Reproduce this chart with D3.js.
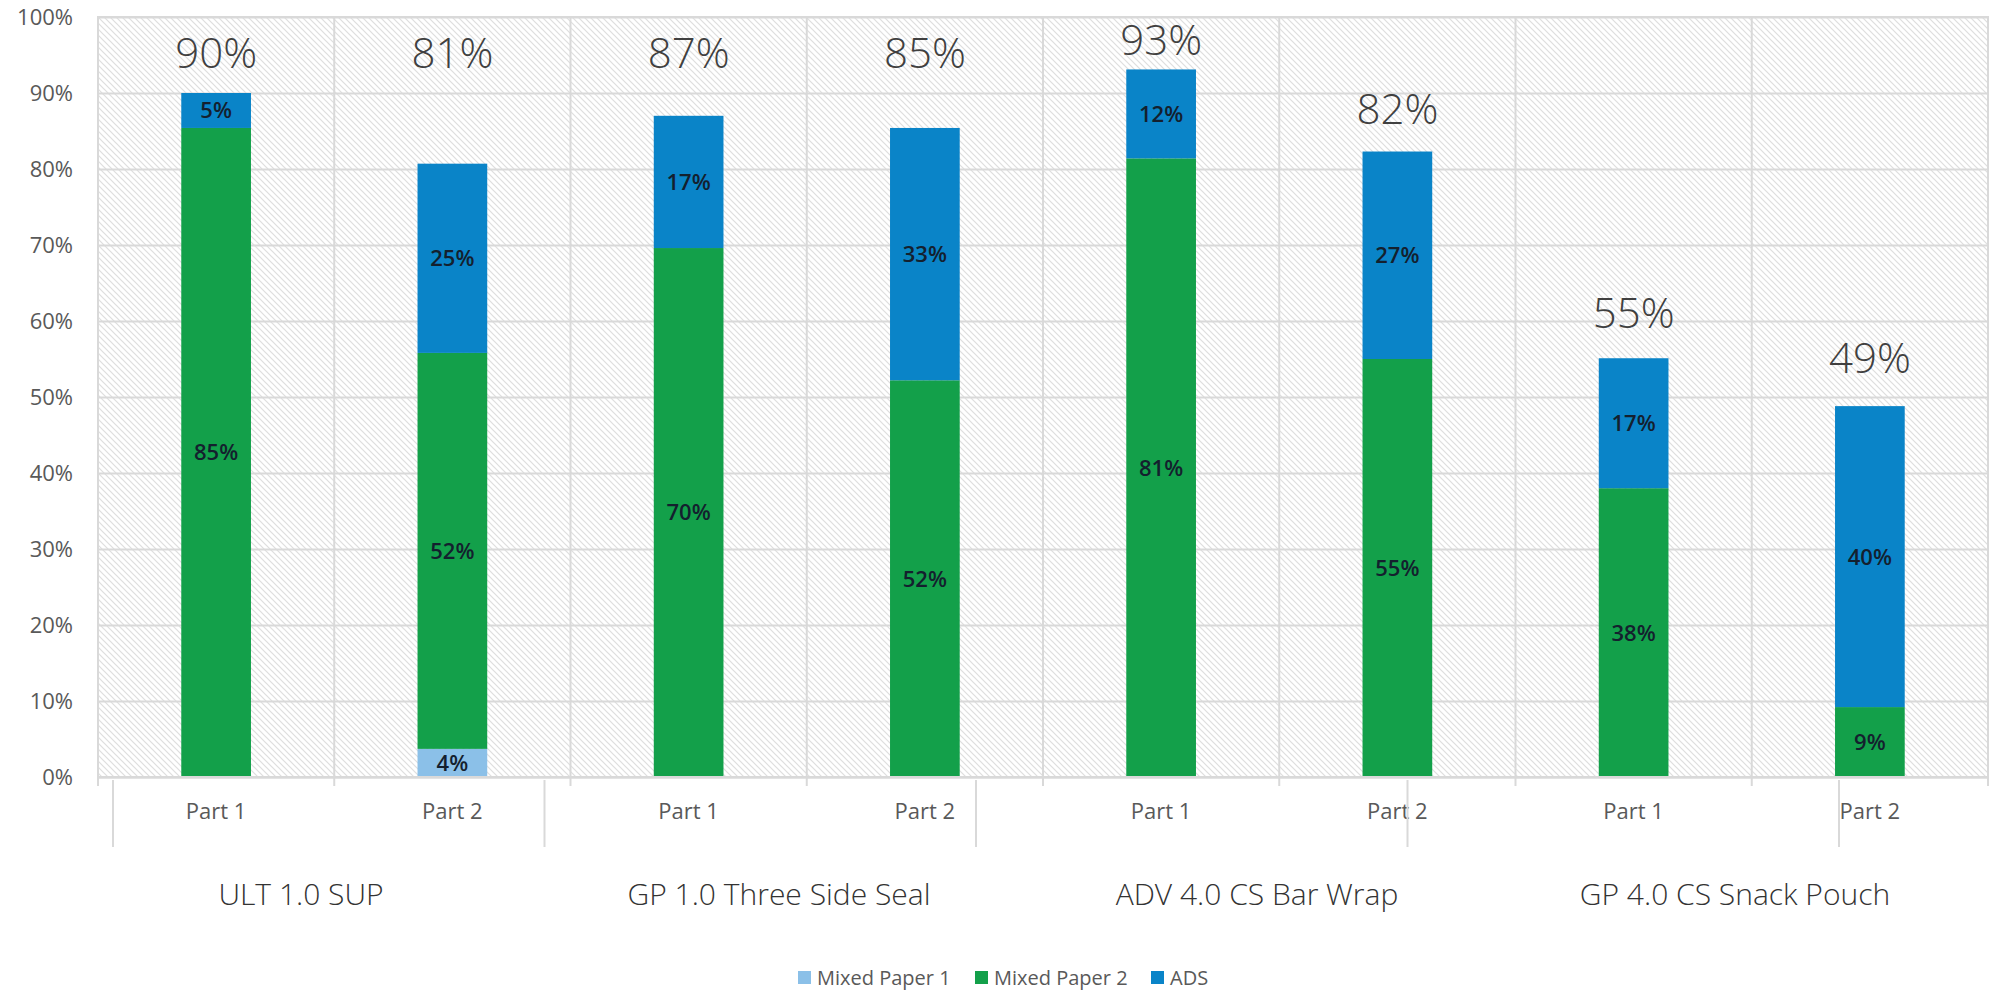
<!DOCTYPE html>
<html>
<head>
<meta charset="utf-8">
<script src="https://cdn.jsdelivr.net/npm/d3@7"></script>
<style>
  body { margin: 0; background: #fff; }
  text { font-family: "Open Sans", "Liberation Sans", sans-serif; }
  .tick-label { fill: #595959; font-size: 22px; }
  .total-label { fill: #404040; font-size: 42px; font-weight: 300; }
  .seg-label { fill: #14202e; font-size: 22px; font-weight: 600; }
  .group-label { fill: #333; font-size: 30px; font-weight: 300; }
  .legend-label { fill: #595959; font-size: 20px; }
</style>
</head>
<body>
<div id="chart"></div>
<script>
// data
let groups = ["ULT 1.0 SUP", "GP 1.0 Three Side Seal", "ADV 4.0 CS Bar Wrap", "GP 4.0 CS Snack Pouch"];
let parts = ["Part 1", "Part 2"];
let seriesNames = ["Mixed Paper 1", "Mixed Paper 2", "ADS"];
let mixedPaper1 = [0, 3.7, 0, 0, 0, 0, 0, 0];
let mixedPaper2 = [85.4, 52.1, 69.6, 52.2, 81.4, 55.0, 38.0, 9.2];
let ads = [4.6, 24.9, 17.4, 33.2, 11.7, 27.3, 17.1, 39.6];
// where the big total labels sit (in % units, they were placed by hand)
let totalLabelAt = [95.3, 95.3, 95.3, 95.3, 97.0, 87.9, 61.1, 55.1];
let yTicks = [0, 10, 20, 30, 40, 50, 60, 70, 80, 90, 100];
let colors = ["#8bc0e8", "#13a04a", "#0a84c8"];

let totalWidth = 2003, totalHeight = 995;
let margin = {top: 17, right: 15, bottom: 218, left: 98};
let width = totalWidth - margin.left - margin.right,
    height = totalHeight - margin.top - margin.bottom;

// one row per bar
let rows = [];
groups.forEach((g, gi) => {
    parts.forEach((p, pi) => {
        let i = gi * parts.length + pi;
        rows.push({key: g + "|" + p, group: g, part: p,
            "Mixed Paper 1": mixedPaper1[i], "Mixed Paper 2": mixedPaper2[i], "ADS": ads[i],
            labelAt: totalLabelAt[i]});
    });
});

let svg = d3.select("#chart").append("svg")
    .attr("width", totalWidth)
    .attr("height", totalHeight);

let defs = svg.append("defs");
let pat = defs.append("pattern")
    .attr("id", "hatch")
    .attr("width", 6).attr("height", 6)
    .attr("patternUnits", "userSpaceOnUse");
pat.append("rect").attr("width", 6).attr("height", 6).attr("fill", "#fff");
pat.append("path")
    .attr("d", "M-1,-1 L7,7 M5,-1 L7,1 M-1,5 L1,7")
    .attr("stroke", "#dedede")
    .attr("stroke-width", 1.2);

let g = svg.append("g")
    .attr("transform", "translate(" + margin.left + "," + margin.top + ")");

let xScale = d3.scaleBand()
    .domain(rows.map(d => d.key))
    .range([0, width]);

let yScale = d3.scaleLinear()
    .domain([0, 100])
    .range([height, 0]);

// hatched plot background
g.append("rect")
    .attr("width", width)
    .attr("height", height)
    .attr("fill", "url(#hatch)");

// horizontal gridlines
g.append("g")
    .attr("class", "grid")
    .call(d3.axisLeft(yScale).tickValues(yTicks).tickSize(-width).tickFormat(""))
    .call(s => s.select(".domain").remove())
    .selectAll("line")
    .attr("stroke", "#d9d9d9")
    .attr("stroke-width", 2);

// vertical gridlines between bars
let boundaries = rows.map(d => xScale(d.key)).concat([width]);
g.selectAll(".vgrid")
    .data(boundaries)
    .enter()
    .append("line")
    .attr("class", "vgrid")
    .attr("x1", d => d).attr("x2", d => d)
    .attr("y1", 0).attr("y2", height)
    .attr("stroke", "#d9d9d9")
    .attr("stroke-width", 2);

// y axis labels
g.append("g")
    .call(d3.axisLeft(yScale).tickValues(yTicks).tickSize(0).tickPadding(25).tickFormat(d => d + "%"))
    .call(s => s.select(".domain").remove())
    .selectAll("text")
    .attr("class", "tick-label")
    .attr("font-size", null)
    .attr("font-family", null);

// stacked bars
let stack = d3.stack().keys(seriesNames);
let stacked = stack(rows);
let barW = xScale.bandwidth() * 0.295;

let layers = g.selectAll(".layer")
    .data(stacked)
    .enter()
    .append("g")
    .attr("class", "layer")
    .attr("fill", (d, i) => colors[i]);

layers.selectAll("rect")
    .data(d => d)
    .enter()
    .append("rect")
    .attr("x", d => xScale(d.data.key) + (xScale.bandwidth() - barW) / 2)
    .attr("y", d => yScale(d[1]))
    .attr("width", barW)
    .attr("height", d => yScale(d[0]) - yScale(d[1]));

// segment labels
layers.selectAll("text")
    .data(d => d.filter(v => v[1] - v[0] > 0))
    .enter()
    .append("text")
    .attr("class", "seg-label")
    .attr("x", d => xScale(d.data.key) + xScale.bandwidth() / 2)
    .attr("y", d => yScale((d[0] + d[1]) / 2))
    .attr("dy", "0.36em")
    .attr("text-anchor", "middle")
    .text(d => Math.round(d[1] - d[0]) + "%");

// totals above bars
g.selectAll(".total-label")
    .data(rows)
    .enter()
    .append("text")
    .attr("class", "total-label")
    .attr("x", d => xScale(d.key) + xScale.bandwidth() / 2)
    .attr("y", d => yScale(d.labelAt))
    .attr("dy", "0.36em")
    .attr("text-anchor", "middle")
    .text(d => Math.round(d["Mixed Paper 1"] + d["Mixed Paper 2"] + d["ADS"]) + "%");

// plot border
g.append("rect")
    .attr("width", width)
    .attr("height", height)
    .attr("fill", "none")
    .attr("stroke", "#d9d9d9")
    .attr("stroke-width", 2);

// category axis, first level
let xAxisG = g.append("g")
    .attr("transform", "translate(0," + height + ")")
    .call(d3.axisBottom(xScale).tickSize(0).tickPadding(26).tickFormat(k => k.split("|")[1]));
xAxisG.select(".domain").attr("stroke", "#d9d9d9").attr("stroke-width", 2);
xAxisG.selectAll("text")
    .attr("class", "tick-label")
    .attr("font-family", null)
    .attr("font-size", null);

g.selectAll(".xtick")
    .data(boundaries)
    .enter()
    .append("line")
    .attr("class", "xtick")
    .attr("x1", d => d).attr("x2", d => d)
    .attr("y1", height).attr("y2", height + 9)
    .attr("stroke", "#d9d9d9")
    .attr("stroke-width", 2);

// second level: group separators and group names
let groupScale = d3.scaleBand()
    .domain(groups)
    .range([15, 1741]);

g.selectAll(".gsep")
    .data(groups.map(d => groupScale(d)).concat([groupScale.range()[1]]))
    .enter()
    .append("line")
    .attr("class", "gsep")
    .attr("x1", d => d).attr("x2", d => d)
    .attr("y1", height + 3).attr("y2", height + 70)
    .attr("stroke", "#d9d9d9")
    .attr("stroke-width", 2);

let groupLabelScale = d3.scalePoint()
    .domain(groups)
    .range([203, 1637]);

g.selectAll(".group-label")
    .data(groups)
    .enter()
    .append("text")
    .attr("class", "group-label")
    .attr("x", d => groupLabelScale(d))
    .attr("y", height + 117)
    .attr("dy", "0.36em")
    .attr("text-anchor", "middle")
    .text(d => d);

// legend
let legendX = [798, 975, 1151];
let legend = svg.append("g").attr("class", "legend");
let items = legend.selectAll("g")
    .data(seriesNames)
    .enter()
    .append("g")
    .attr("transform", (d, i) => "translate(" + legendX[i] + ",971)");
items.append("rect")
    .attr("width", 13)
    .attr("height", 13)
    .attr("fill", (d, i) => colors[i]);
items.append("text")
    .attr("class", "legend-label")
    .attr("x", 19)
    .attr("y", 7)
    .attr("dy", "0.36em")
    .text(d => d);
</script>
</body>
</html>
